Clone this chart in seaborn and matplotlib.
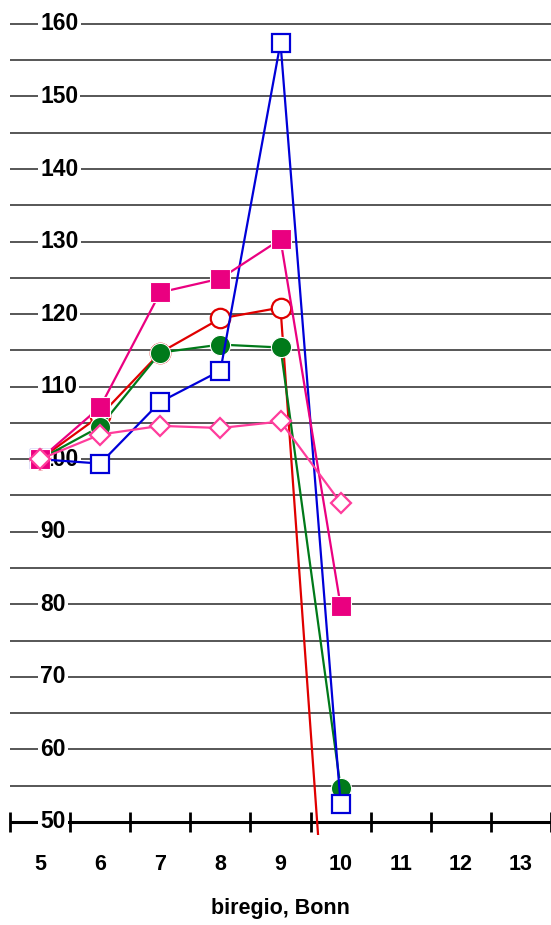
import numpy as np
import pandas as pd
import seaborn as sns
import matplotlib.pyplot as plt
import matplotlib.transforms as mtransforms

# data
categorias = [5, 6, 7, 8, 9, 10]
rojo = [100, 106.0, 114.7, 119.4, 120.9, 4.6]
verde = [100, 104.5, 114.7, 115.8, 115.4, 54.7]
azul = [100, 99.4, 107.9, 112.2, 157.4, 52.5]
rosa_cuad = [100, 107.2, 123.0, 124.9, 130.3, 79.8]
rosa_diam = [100, 103.4, 104.6, 104.3, 105.2, 94.0]

x_ticks = [5, 6, 7, 8, 9, 10, 11, 12, 13]
y_labels = [50, 60, 70, 80, 90, 100, 110, 120, 130, 140, 150, 160]
grid_y = list(range(55, 165, 5))

sns.set_style("white")
plt.rcParams['font.family'] = ['Liberation Sans', 'DejaVu Sans']
plt.rcParams['text.color'] = 'black'
plt.rcParams['xtick.color'] = 'black'
plt.rcParams['axes.labelcolor'] = 'black'

fig = plt.figure(figsize=(5.51, 9.25), dpi=100)
ax = fig.add_axes([10 / 551, 1 - 835 / 925, 541 / 551, 835 / 925])
ax.set_xlim(4.5, 13.5)
ax.set_ylim(48.2, 163.3)

for g in grid_y:
    ax.axhline(g, color="#3a3a3a", lw=1.2, zorder=1)

# eje x dibujado a mano sobre y=50
ax.axhline(50, color="black", lw=2.2, zorder=2)
ax.vlines(np.arange(4.5, 14.0, 1.0), 48.6, 51.4, color="black", lw=2, zorder=2, clip_on=False)

series = [
    (rojo, "#e00000", "o", "white", 14),
    (verde, "#007a1a", "o", "#007a1a", 14.5),
    (azul, "#0000d8", "s", "white", 13),
    (rosa_cuad, "#ea0080", "s", "#ea0080", 14),
    (rosa_diam, "#ff3c9c", "D", "white", 10.5),
]
for i, (vals, col, mk, fc, ms) in enumerate(series):
    df = pd.DataFrame({"x": categorias, "y": vals})
    sns.lineplot(data=df, x="x", y="y", ax=ax, color=col, lw=1.6, marker=mk,
                 markersize=ms, markerfacecolor=fc, markeredgecolor=col if fc == "white" else "white",
                 markeredgewidth=1.6 if fc == "white" else 0.8, zorder=3 + i)

# etiquetas del eje y dentro del grafico
trans = mtransforms.blended_transform_factory(ax.transAxes, ax.transData)
for v in y_labels:
    ax.text(30 / 541, v, str(v), transform=trans, ha="left", va="center",
            fontsize=16.5, fontweight="bold", color="black", zorder=2.5,
            bbox=dict(boxstyle="square,pad=0.1", fc="white", ec="none"))

ax.set_yticks([])
ax.set_xticks(x_ticks)
ax.set_xticklabels([str(t) for t in x_ticks], fontsize=15.5, fontweight="bold")
ax.tick_params(axis="x", length=0, pad=14)
ax.set_xlabel("biregio, Bonn", fontsize=15.5, fontweight="bold", labelpad=16)
ax.set_ylabel("")
for s in ax.spines.values():
    s.set_visible(False)

fig.savefig("out.png", dpi=100)
